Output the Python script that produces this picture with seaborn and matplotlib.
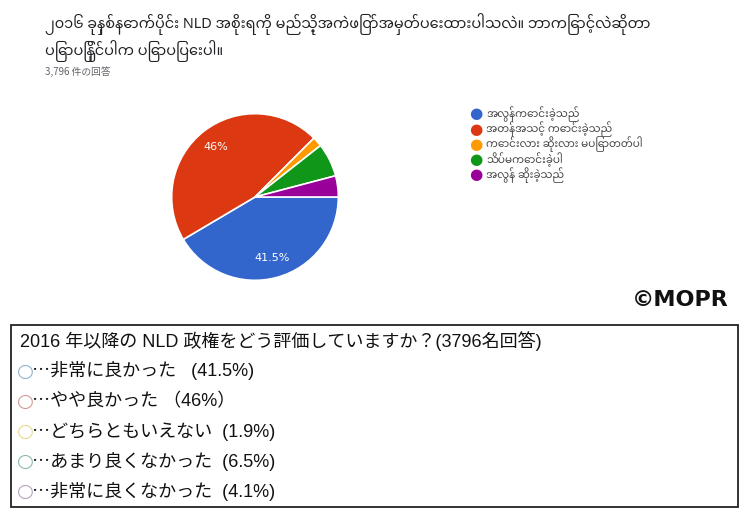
import matplotlib
matplotlib.use("Agg")
import matplotlib.pyplot as plt
import seaborn as sns
from matplotlib import font_manager
from matplotlib.patches import Rectangle

# data
values = [41.5, 46, 1.9, 6.5, 4.1]
mm_labels = ["အလွန်ကောင်းခဲ့သည်", "အတန်အသင့် ကောင်းခဲ့သည်",
             "ကောင်းလား ဆိုးလား မပြောတတ်ပါ", "သိပ်မကောင်းခဲ့ပါ", "အလွန် ဆိုးခဲ့သည်"]
jp_labels = ["非常に良かった", "やや良かった", "どちらともいえない",
             "あまり良くなかった", "非常に良くなかった"]
jp_pct = ["   (41.5%)", " （46%）", "  (1.9%)", "  (6.5%)", "  (4.1%)"]
colors = ["#3366cc", "#dc3912", "#ff9900", "#109618", "#990099"]
box_colors = ["#8fb3c9", "#d29a94", "#e6d98f", "#8cbca4", "#b3a2bf"]

title_mm = ("၂၀၁၆ ခုနှစ်နောက်ပိုင်း NLD အစိုးရကို မည်သို့အကဲဖြတ်အမှတ်ပေးထားပါသလဲ။ ဘာကြောင့်လဲဆိုတာ\n"
            "ပြောပြနိုင်ပါက ပြောပြပေးပါ။")
n_resp = "3,796 件の回答"
box_title = "2016 年以降の NLD 政権をどう評価していますか？(3796名回答)"

sns.set_theme(style="white")
installed = {f.name for f in font_manager.fontManager.ttflist}
fams = ["Noto Sans CJK JP", "DejaVu Sans"]
jp_fams = ["Liberation Sans", "Noto Sans CJK JP", "DejaVu Sans"]
mm_fams = [f for f in ["Noto Sans Myanmar", "Padauk", "Myanmar Text"] if f in installed] + fams
plt.rcParams["font.family"] = fams

fig = plt.figure(figsize=(7.5, 5.17), dpi=100)
W, H = 750, 517

def fx(x):
    return x / W

def fy(y):
    return 1 - y / H

# pie
ax = fig.add_axes([fx(170), fy(282), 170 / W, 170 / H])
wedges, texts, autotexts = ax.pie(
    values, colors=colors, startangle=0, counterclock=False,
    autopct=lambda p: f"{p:g}%" if p > 10 else "", pctdistance=0.76,
    wedgeprops=dict(edgecolor="white", linewidth=1.2),
    textprops=dict(color="white", fontsize=8, family="DejaVu Sans"))
ax.set_xlim(-1.02, 1.02)
ax.set_ylim(-1.02, 1.02)
ax.set_aspect("equal")
ax.axis("off")

# title
fig.text(fx(45), fy(13), title_mm, fontsize=10.4, color="#202124", va="top",
         family=mm_fams, linespacing=1.35)
fig.text(fx(45), fy(72), n_resp, fontsize=7, color="#5f6368", va="center")

# legend
for i, (lab, c) in enumerate(zip(mm_labels, colors)):
    y = 114 + i * 15.2
    fig.text(fx(476), fy(y), "●", color=c, fontsize=11, ha="center", va="center",
             family="DejaVu Sans")
    fig.text(fx(486), fy(y), lab, color="#444444", fontsize=7.6, va="center",
             family=mm_fams)

fig.text(fx(729), fy(300), "©MOPR", fontsize=16, fontweight="bold", ha="right",
         va="center", family="DejaVu Sans", color="#111111")

# answer box
fig.patches.append(Rectangle((fx(11), fy(507)), (738 - 11) / W, (507 - 325) / H,
                             transform=fig.transFigure, fill=False,
                             edgecolor="#222222", linewidth=1.3))
fig.text(fx(20), fy(341), box_title, fontsize=13, va="center", color="#111111",
         family=jp_fams)
for i, (lab, pct, c) in enumerate(zip(jp_labels, jp_pct, box_colors)):
    y = 371 + i * 30.2
    fig.text(fx(25), fy(y), "○", color=c, fontsize=14, ha="center", va="center",
             family="DejaVu Sans")
    fig.text(fx(32), fy(y), "⋯" + lab + pct, fontsize=13, va="center",
             color="#111111", family=jp_fams)

fig.savefig("out.png", dpi=100, facecolor="white")
